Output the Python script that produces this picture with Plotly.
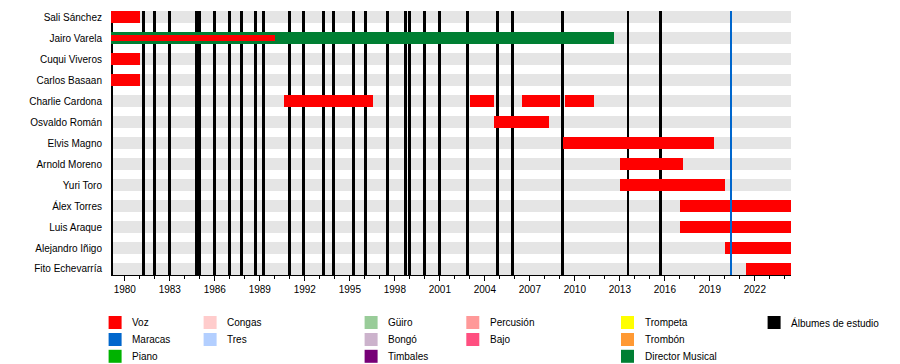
import plotly.graph_objects as go

# ---------------- data ----------------
members = ["Sali Sánchez", "Jairo Varela", "Cuqui Viveros", "Carlos Basaan",
           "Charlie Cardona", "Osvaldo Román", "Elvis Magno", "Arnold Moreno",
           "Yuri Toro", "Álex Torres", "Luis Araque", "Alejandro Iñigo",
           "Fito Echevarría"]

start_year = 1979.08
end_year = 2024.41

voz_member = ["Sali Sánchez", "Cuqui Viveros", "Carlos Basaan",
              "Charlie Cardona", "Charlie Cardona", "Charlie Cardona", "Charlie Cardona",
              "Osvaldo Román", "Elvis Magno", "Arnold Moreno", "Yuri Toro",
              "Álex Torres", "Luis Araque", "Alejandro Iñigo", "Fito Echevarría"]
voz_start = [1979.1, 1979.1, 1979.1,
             1990.63, 2003.0, 2006.5, 2009.37,
             2004.6, 2009.2, 2013.0, 2013.0,
             2017.0, 2017.0, 2020.0, 2021.4]
voz_end = [1981.03, 1981.03, 1981.03,
           1996.55, 2004.6, 2009.0, 2011.3,
           2008.3, 2019.3, 2017.2, 2020.0,
           end_year, end_year, end_year, end_year]

director_member = ["Jairo Varela"]
director_start = [1979.1]
director_end = [2012.62]

voz2_member = ["Jairo Varela"]
voz2_start = [1979.1]
voz2_end = [1990.0]

studio_albums = [1979.15, 1981.25, 1982.0, 1983.0, 1984.8, 1984.97, 1986.0, 1987.0,
                 1987.8, 1988.7, 1989.25, 1991.0, 1991.9, 1993.25, 1993.9, 1995.25,
                 1996.05, 1997.5, 1998.73, 1999.0, 2000.0, 2001.0, 2002.85, 2004.85,
                 2005.85, 2009.2, 2013.55, 2015.7]
other_albums = [2020.4]

legend_labels = ["Voz", "Maracas", "Piano", "Congas", "Tres", "Güiro", "Bongó",
                 "Timbales", "Percusión", "Bajo", "Trompeta", "Trombón",
                 "Director Musical", "Álbumes de estudio"]
legend_colors = ["#ff0000", "#0066cc", "#00b300", "#ffcccc", "#b3cfff", "#99cc99",
                 "#ccb3cc", "#770077", "#ff9999", "#ff4f80", "#ffff00", "#ff9933",
                 "#007f33", "#000000"]

# ---------------- layout geometry ----------------
W, H = 900, 364
L, R, T, B = 110.7, 109.3, 11, 89
PW = W - L - R
PH = H - T - B
n = len(members)
y_lo, y_hi = -0.286, n - 1 + 0.286
yr_per_px = (end_year - start_year) / PW

color_of = dict(zip(legend_labels, legend_colors))
idx = {m: i for i, m in enumerate(members)}

fig = go.Figure()

# background stripes
fig.add_trace(go.Bar(
    orientation="h", y=list(range(n)), base=[start_year] * n,
    x=[end_year - start_year] * n, width=0.55,
    marker=dict(color="#e5e5e5", line=dict(width=0)),
    hoverinfo="skip", showlegend=False))

# studio album lines (thin vertical bars, drawn below member bars)
fig.add_trace(go.Bar(
    orientation="v", x=studio_albums, base=[y_lo] * len(studio_albums),
    y=[y_hi - y_lo] * len(studio_albums), width=2.8 * yr_per_px,
    marker=dict(color="#000000", line=dict(width=0)),
    hoverinfo="skip", showlegend=False))

# Director musical
fig.add_trace(go.Bar(
    orientation="h", y=[idx[m] for m in director_member], base=director_start,
    x=[e - s for s, e in zip(director_start, director_end)], width=0.55,
    marker=dict(color=color_of["Director Musical"], line=dict(width=0)),
    name="Director Musical", showlegend=False))

# Voz
fig.add_trace(go.Bar(
    orientation="h", y=[idx[m] for m in voz_member], base=voz_start,
    x=[e - s for s, e in zip(voz_start, voz_end)], width=0.55,
    marker=dict(color=color_of["Voz"], line=dict(width=0)),
    name="Voz", showlegend=False))

# Voz (secondary, thin)
fig.add_trace(go.Bar(
    orientation="h", y=[idx[m] for m in voz2_member], base=voz2_start,
    x=[e - s for s, e in zip(voz2_start, voz2_end)], width=0.24,
    marker=dict(color=color_of["Voz"], line=dict(width=0)),
    name="Voz", showlegend=False))

# other album line (front)
fig.add_trace(go.Bar(
    orientation="v", x=other_albums, base=[y_lo] * len(other_albums),
    y=[y_hi - y_lo] * len(other_albums), width=2.4 * yr_per_px,
    marker=dict(color=color_of["Maracas"], line=dict(width=0)),
    hoverinfo="skip", showlegend=False))

# ---------------- custom legend ----------------
def px_x(p):
    return (p - L) / PW


def px_y(p):
    return (H - B - p) / PH


legend_cols = [[0, 1, 2], [3, 4], [5, 6, 7], [8, 9], [10, 11, 12], [13]]
col_swatch_x = [108.3, 203.3, 364.3, 466.0, 620.7, 767.3]
row_y = [322.5, 339.5, 356.3]
sw = 13
shapes = []
annotations = []
for c, items in enumerate(legend_cols):
    for r, k in enumerate(items):
        x0 = col_swatch_x[c]
        yc = row_y[r]
        shapes.append(dict(type="rect", xref="paper", yref="paper",
                           x0=px_x(x0), x1=px_x(x0 + sw),
                           y0=px_y(yc + sw / 2), y1=px_y(yc - sw / 2),
                           fillcolor=legend_colors[k], line=dict(width=0)))
        annotations.append(dict(xref="paper", yref="paper",
                                x=px_x(x0 + 21.5), y=px_y(yc),
                                xanchor="left", yanchor="middle",
                                text=legend_labels[k], showarrow=False,
                                font=dict(size=10, color="#000000")))

fig.update_layout(
    width=W, height=H,
    margin=dict(l=L, r=R, t=T, b=B, pad=0),
    paper_bgcolor="#ffffff", plot_bgcolor="#ffffff",
    barmode="overlay", bargap=0,
    font=dict(family="Liberation Sans, Arial, sans-serif", size=10, color="#000000"),
    shapes=shapes, annotations=annotations,
    showlegend=False,
    xaxis=dict(range=[start_year, end_year], showgrid=False, zeroline=False,
               showline=True, linecolor="#000000", linewidth=1,
               ticks="outside", ticklen=5, tickwidth=1, tickcolor="#000000",
               tick0=1980, dtick=3, tickformat="d",
               minor=dict(ticks="outside", ticklen=3, tickwidth=1,
                          tickcolor="#000000", dtick=1, tick0=1980, showgrid=False),
               tickfont=dict(size=10), fixedrange=True),
    yaxis=dict(range=[y_hi, y_lo], showgrid=False, zeroline=False, showline=False,
               tickmode="array", tickvals=list(range(n)), ticktext=members,
               ticks="", ticklabelstandoff=8, tickfont=dict(size=10),
               fixedrange=True),
)

fig.write_html("out.html", config={"displayModeBar": False},
               post_script="document.body.style.margin='0px';document.body.style.overflow='hidden';")
